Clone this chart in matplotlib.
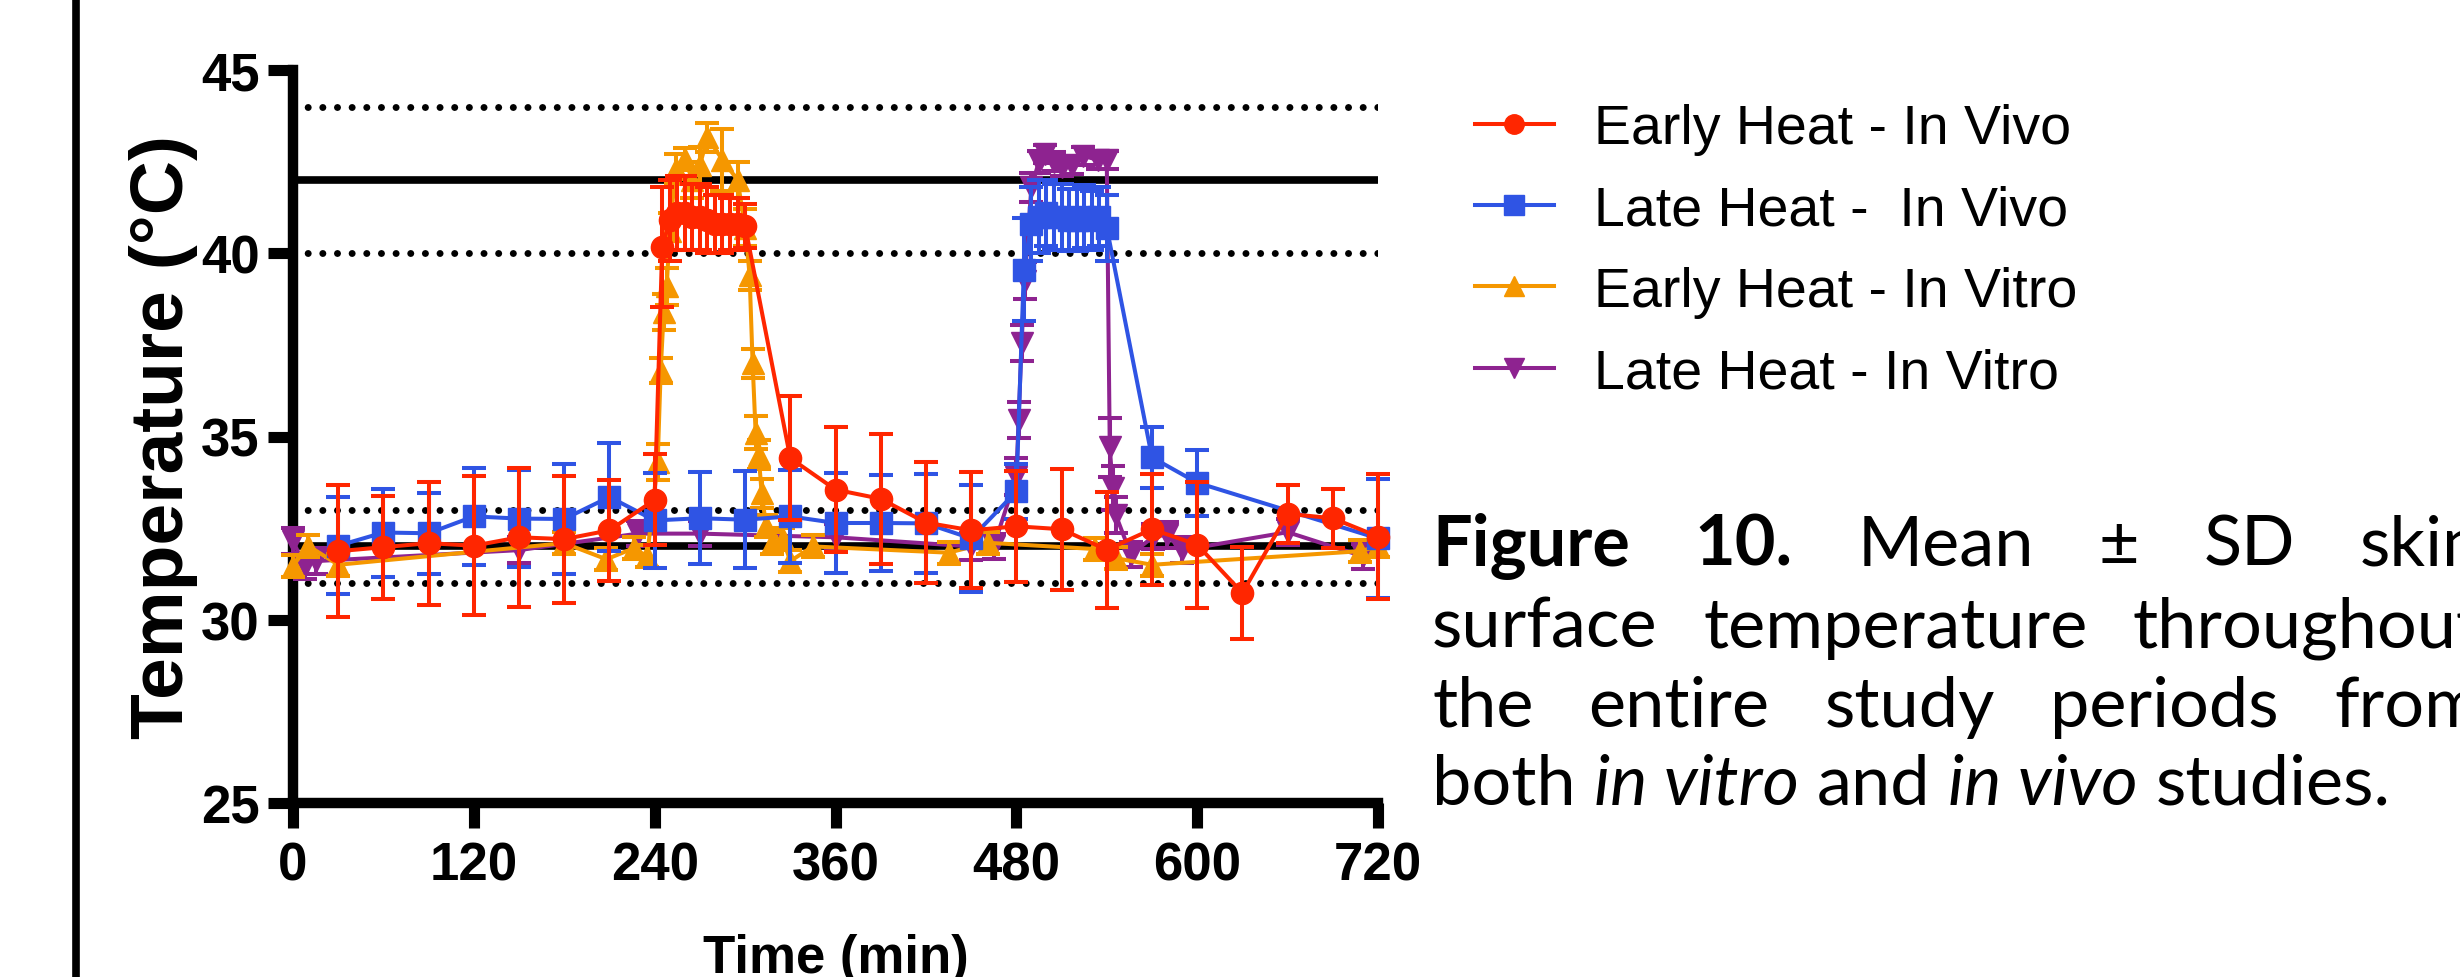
import matplotlib
matplotlib.use("Agg")
import matplotlib.pyplot as plt
from matplotlib.lines import Line2D

# Early Heat - In Vivo (red circles)
ehvivo_t = [30, 60, 90, 120, 150, 180, 210, 240, 245, 250, 255, 260, 265, 270, 275,
            280, 285, 290, 295, 300, 330, 360, 390, 420, 450, 480, 510, 540, 570,
            600, 630, 660, 690, 720]
ehvivo_mean = [31.87, 31.98, 32.09, 32.02, 32.25, 32.20, 32.44, 33.27, 40.17, 40.90,
               41.10, 41.10, 41.00, 41.00, 40.90, 40.80, 40.80, 40.80, 40.80, 40.75,
               34.41, 33.55, 33.30, 32.65, 32.44, 32.55, 32.47, 31.91, 32.47, 32.05,
               30.73, 32.89, 32.77, 32.27]
ehvivo_sd = [1.80, 1.41, 1.68, 1.90, 1.90, 1.73, 1.37, 1.24, 1.65, 1.10, 1.00, 1.00,
             0.90, 0.90, 0.90, 0.80, 0.80, 0.70, 0.70, 0.60, 1.70, 1.70, 1.77, 1.65,
             1.58, 1.52, 1.65, 1.58, 1.52, 1.72, 1.26, 0.80, 0.80, 1.70]

# Late Heat - In Vivo (blue squares)
lhvivo_t = [30, 60, 90, 120, 150, 180, 210, 240, 270, 300, 330, 360, 390, 420, 450,
            480, 485, 490, 495, 500, 505, 510, 515, 520, 525, 530, 535, 540, 570,
            600, 720]
lhvivo_mean = [32.02, 32.38, 32.36, 32.82, 32.76, 32.75, 33.35, 32.71, 32.77, 32.73,
               32.82, 32.64, 32.64, 32.63, 32.22, 33.50, 39.55, 40.80, 41.00, 41.10,
               41.00, 41.00, 40.90, 40.90, 41.00, 40.90, 41.00, 40.70, 34.43, 33.74,
               32.22]
lhvivo_sd = [1.33, 1.20, 1.11, 1.32, 1.32, 1.50, 1.47, 1.29, 1.25, 1.33, 1.27, 1.36,
             1.30, 1.35, 1.45, 0.75, 1.40, 1.00, 1.00, 0.90, 0.90, 0.90, 0.85, 0.85,
             0.85, 0.80, 0.80, 0.90, 0.84, 0.90, 1.63]

# Early Heat - In Vitro (orange triangles up)
ehvitro_t = [0, 10, 30, 180, 208, 226, 235, 242, 244, 246, 248, 250, 254, 260, 265,
             270, 275, 285, 295, 300, 303, 305, 307, 309, 311, 314, 318, 325, 330,
             345, 435, 461, 532, 546, 570, 708, 720]
ehvitro_mean = [31.47, 32.02, 31.50, 32.09, 31.65, 31.95, 31.73, 34.30, 36.80, 38.40,
                39.10, 40.60, 42.30, 42.56, 42.00, 42.40, 43.16, 42.55, 42.00, 40.70,
                39.40, 37.00, 35.10, 34.50, 33.45, 32.55, 32.10, 32.20, 31.60, 32.00,
                31.83, 32.10, 31.93, 31.68, 31.50, 31.87, 32.00]
ehvitro_sd = [0.30, 0.30, 0.30, 0.30, 0.30, 0.30, 0.30, 0.50, 0.35, 0.50, 0.50, 0.50,
              0.40, 0.30, 0.50, 0.50, 0.40, 0.85, 0.50, 0.50, 0.40, 0.40, 0.45, 0.40,
              0.40, 0.30, 0.30, 0.30, 0.30, 0.30, 0.30, 0.30, 0.30, 0.30, 0.30, 0.30,
              0.30]

# Late Heat - In Vitro (purple triangles down)
lhvitro_t = [0, 8, 15, 150, 229, 270, 360, 450, 465, 480, 481.5, 483.5, 485.5, 490,
             495, 499, 505, 510, 517, 524, 534, 540, 542, 544, 546, 556, 571, 580,
             590, 660, 710]
lhvitro_mean = [32.14, 31.46, 31.60, 31.90, 32.35, 32.35, 32.25, 32.00, 32.00, 33.90,
                35.45, 37.55, 39.25, 41.80, 42.50, 42.70, 42.50, 42.35, 42.40, 42.66,
                42.55, 42.55, 34.70, 33.60, 32.86, 31.78, 32.27, 32.32, 31.90, 32.39,
                31.73]
lhvitro_sd = [0.35, 0.35, 0.35, 0.35, 0.35, 0.35, 0.35, 0.36, 0.35, 0.50, 0.50, 0.50,
              0.50, 0.40, 0.30, 0.25, 0.25, 0.25, 0.25, 0.25, 0.25, 0.25, 0.80, 0.60,
              0.50, 0.35, 0.35, 0.35, 0.35, 0.35, 0.35]

labels = ["Early Heat - In Vivo", "Late Heat -  In Vivo",
          "Early Heat - In Vitro", "Late Heat - In Vitro"]
colors = ["#ff2600", "#2f54e4", "#f59700", "#8e2390"]
markers = ["o", "s", "^", "v"]

solid_refs = [42, 32]
dotted_refs = [44, 40, 33, 31]
xticks = [0, 120, 240, 360, 480, 600, 720]
yticks = [25, 30, 35, 40, 45]

plt.rcParams['font.family'] = ['Liberation Sans', 'DejaVu Sans']

W, H = 2460, 978
fig = plt.figure(figsize=(W / 100, H / 100), dpi=100)
ax = fig.add_axes([293 / W, 1 - 804 / H, 1085 / W, 733 / H])

for y in solid_refs:
    ax.axhline(y, color="black", lw=5.5, zorder=1)
for y in dotted_refs:
    ax.axhline(y, color="black", lw=5, linestyle=(0, (0.01, 2.1)),
               dash_capstyle="round", zorder=1)

series = [
    (lhvitro_t, lhvitro_mean, lhvitro_sd, 3),
    (ehvitro_t, ehvitro_mean, ehvitro_sd, 2),
    (lhvivo_t, lhvivo_mean, lhvivo_sd, 1),
    (ehvivo_t, ehvivo_mean, ehvivo_sd, 0),
]
for z, (t, m, sd, i) in enumerate(series):
    ax.errorbar(t, m, yerr=sd, color=colors[i], marker=markers[i], ms=16,
                mec=colors[i], lw=2.9, elinewidth=2.9, capsize=8.3, capthick=2.9,
                zorder=3 + z, clip_on=False)

ax.set_xlim(0, 720)
ax.set_ylim(25, 45)
ax.set_xticks(xticks, labels=[str(v) for v in xticks], fontweight="bold")
ax.set_yticks(yticks, labels=[str(v) for v in yticks], fontweight="bold")
ax.tick_params(axis="both", direction="out", length=18, width=8, labelsize=38)
ax.tick_params(axis="y", pad=6)
ax.tick_params(axis="x", pad=9)
for s in ["top", "right"]:
    ax.spines[s].set_visible(False)
for s in ["left", "bottom"]:
    ax.spines[s].set_linewidth(7.5)
    ax.spines[s].set_capstyle("projecting")

ax.set_xlabel("Time (min)", fontsize=38, fontweight="bold")
ax.xaxis.set_label_coords(0.5, -0.177)
ax.set_ylabel("Temperature (\u00b0C)", fontsize=54, fontweight="bold")
ax.yaxis.set_label_coords(-0.088, 0.5)

handles = [Line2D([], [], color=c, marker=mk, ms=14, mec=c, lw=2.9)
           for c, mk in zip(colors, markers)]
fig.legend(handles, labels, loc="upper left",
           bbox_to_anchor=(1475 / W, 1 - 104 / H), frameon=False,
           fontsize=40, handlelength=1.42, handletextpad=0.72,
           labelspacing=0.53, borderpad=0, borderaxespad=0)

# page border line on the left
fig.add_artist(Line2D([76 / W, 76 / W], [0, 1], transform=fig.transFigure,
                      color="black", lw=5.5))

# caption, justified like the source document (right margin is off the page)
fig.canvas.draw()
renderer = fig.canvas.get_renderer()
cap_font = "Lato"


def measure(txt, weight, style, size):
    tt = fig.text(0, 0, txt, fontsize=size, fontweight=weight, fontstyle=style,
                  family=cap_font)
    w = tt.get_window_extent(renderer).width
    tt.remove()
    return w


cap_lines = [
    [("Figure", "bold", "normal"), ("10.", "bold", "normal"),
     ("Mean", "normal", "normal"), ("\u00b1", "normal", "normal"),
     ("SD", "normal", "normal"), ("skin", "normal", "normal")],
    [("surface", "normal", "normal"), ("temperature", "normal", "normal"),
     ("throughout", "normal", "normal")],
    [("the", "normal", "normal"), ("entire", "normal", "normal"),
     ("study", "normal", "normal"), ("periods", "normal", "normal"),
     ("from", "normal", "normal")],
    [("both", "normal", "normal"), ("in vitro", "normal", "italic"),
     ("and", "normal", "normal"), ("in vivo", "normal", "italic"),
     ("studies.", "normal", "normal")],
]
base = 40
sp = measure("a a", "normal", "normal", base) - measure("aa", "normal", "normal", base)
last_w = sum(measure(w, wt, st, base) for w, wt, st in cap_lines[3]) + 4 * sp
cap_size = base * 958 / last_w
sp = sp * cap_size / base

x0, x1 = 1432, 2482
baselines = [566, 648, 727, 805]
for k, line in enumerate(cap_lines):
    widths = [measure(w, wt, st, cap_size) for w, wt, st in line]
    if k < 3:
        gap = (x1 - x0 - sum(widths)) / (len(line) - 1)
    else:
        gap = sp
    x = x0
    for (w, wt, st), ww in zip(line, widths):
        fig.text(x / W, 1 - baselines[k] / H, w, fontsize=cap_size, fontweight=wt,
                 fontstyle=st, family=cap_font, va="baseline", ha="left")
        x += ww + gap

fig.savefig("out.png", dpi=100)
